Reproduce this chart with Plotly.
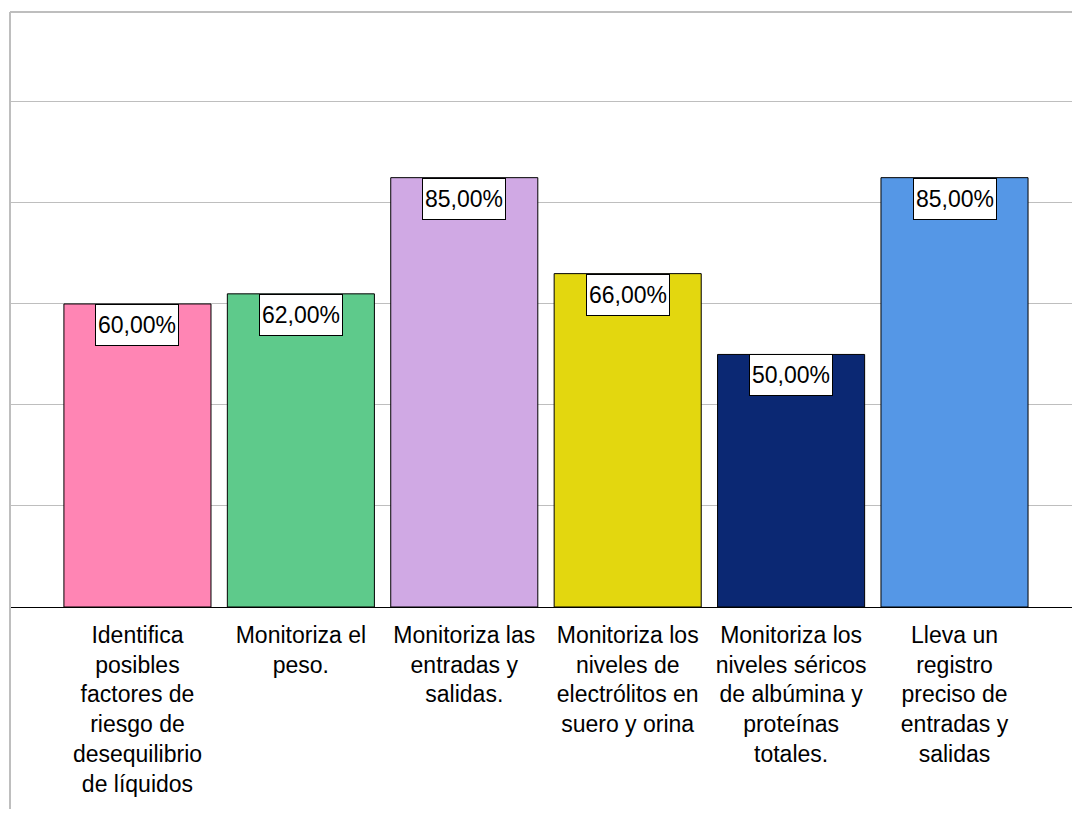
"""
Bar chart: valoración del equilibrio de líquidos
"""

import plotly.graph_objects as go

categories = [
    "Identifica<br>posibles<br>factores de<br>riesgo de<br>desequilibrio<br>de líquidos",
    "Monitoriza el<br>peso.",
    "Monitoriza las<br>entradas y<br>salidas.",
    "Monitoriza los<br>niveles de<br>electrólitos en<br>suero y orina",
    "Monitoriza los<br>niveles séricos<br>de albúmina y<br>proteínas<br>totales.",
    "Lleva un<br>registro<br>preciso de<br>entradas y<br>salidas",
]
values = [0.60, 0.62, 0.85, 0.66, 0.50, 0.85]
labels = ["60,00%", "62,00%", "85,00%", "66,00%", "50,00%", "85,00%"]
colors = ["#FF85B4", "#5ECA8B", "#D0A9E4", "#E3D70F", "#0B2873", "#5597E6"]

FONT = "Liberation Sans Narrow, Arial Narrow, Liberation Sans, Arial, sans-serif"
GRID = "#BEBEBE"

xpos = list(range(len(categories)))

fig = go.Figure()
fig.add_trace(
    go.Bar(
        x=xpos,
        y=values,
        width=0.9,
        marker=dict(color=colors, line=dict(color="black", width=1)),
        hoverinfo="skip",
    )
)

for x, v, lab in zip(xpos, values, labels):
    fig.add_annotation(
        x=x,
        y=v,
        text=lab,
        showarrow=False,
        yanchor="top",
        width=78,
        height=36,
        bgcolor="white",
        bordercolor="black",
        borderwidth=1,
        borderpad=2,
        font=dict(family=FONT, size=23, color="black"),
    )

# frame lines: top border and left border running past the axis
fig.add_shape(type="line", xref="paper", yref="paper", x0=0, x1=1, y0=1, y1=1,
              line=dict(color=GRID, width=2))
fig.add_shape(type="line", xref="paper", yref="paper", x0=0, x1=0, y0=1, y1=-0.36,
              line=dict(color=GRID, width=2))

fig.update_layout(
    width=1072,
    height=801,
    margin=dict(l=2, r=0, t=4, b=202),
    plot_bgcolor="white",
    paper_bgcolor="white",
    showlegend=False,
    font=dict(family=FONT, color="black"),
)

fig.update_xaxes(
    range=[-0.78, 5.768],
    tickvals=xpos,
    ticktext=categories,
    tickfont=dict(family=FONT, size=23, color="black"),
    ticklabelstandoff=7,
    showgrid=False,
    showline=True,
    linecolor="black",
    linewidth=1,
    ticks="",
    zeroline=False,
)

fig.update_yaxes(
    range=[0, 1.178],
    dtick=0.2,
    showticklabels=False,
    showgrid=True,
    gridcolor=GRID,
    gridwidth=1,
    zeroline=False,
    showline=False,
)

fig.write_html("out.html")
